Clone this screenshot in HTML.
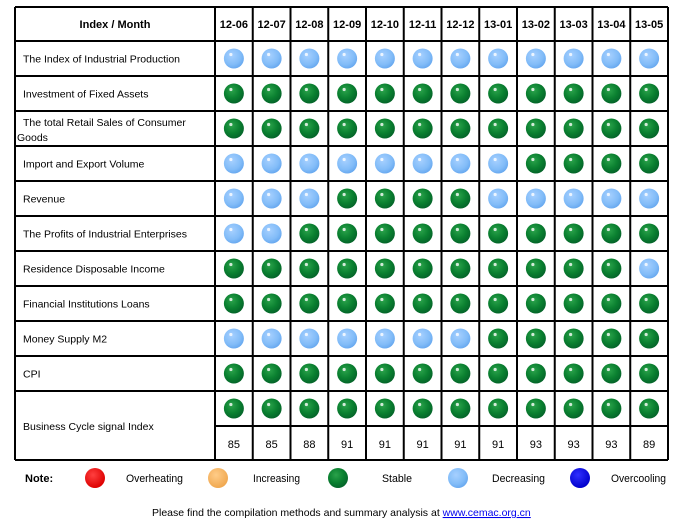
<!DOCTYPE html>
<html><head><meta charset="utf-8"><style>
body{margin:0;background:#fff;}
svg{display:block;font-family:"Liberation Sans",Arial,sans-serif;}
</style></head><body>
<svg id="chart" width="678" height="523" viewBox="0 0 678 523">
<defs>
<radialGradient id="gG" cx="40%" cy="35%" r="65%"><stop offset="0" stop-color="#2aa24a"/><stop offset="0.6" stop-color="#0a8030"/><stop offset="1" stop-color="#05662a"/></radialGradient>
<radialGradient id="gB" cx="40%" cy="35%" r="65%"><stop offset="0" stop-color="#a6d0ff"/><stop offset="0.7" stop-color="#82bcf8"/><stop offset="1" stop-color="#6aaaf0"/></radialGradient>
<radialGradient id="gR" cx="40%" cy="35%" r="65%"><stop offset="0" stop-color="#ff4040"/><stop offset="1" stop-color="#dd0000"/></radialGradient>
<radialGradient id="gO" cx="40%" cy="35%" r="65%"><stop offset="0" stop-color="#ffcc88"/><stop offset="1" stop-color="#f0a850"/></radialGradient>
<radialGradient id="gD" cx="40%" cy="35%" r="65%"><stop offset="0" stop-color="#3030ff"/><stop offset="1" stop-color="#0000cc"/></radialGradient>
</defs>
<g id="grid"></g><g id="marks"></g><g id="labels"></g>
<g id="legend" font-size="11">
<text x="25" y="482" font-weight="bold">Note:</text>
<circle cx="95" cy="478" r="10" fill="url(#gR)"/>
<text x="126" y="482" textLength="57" lengthAdjust="spacingAndGlyphs">Overheating</text>
<circle cx="218" cy="478" r="10" fill="url(#gO)"/>
<text x="253" y="482" textLength="47" lengthAdjust="spacingAndGlyphs">Increasing</text>
<circle cx="338" cy="478" r="10" fill="url(#gG)"/>
<text x="382" y="482" textLength="30" lengthAdjust="spacingAndGlyphs">Stable</text>
<circle cx="458" cy="478" r="10" fill="url(#gB)"/>
<text x="492" y="482" textLength="53" lengthAdjust="spacingAndGlyphs">Decreasing</text>
<circle cx="580" cy="478" r="10" fill="url(#gD)"/>
<text x="611" y="482" textLength="55" lengthAdjust="spacingAndGlyphs">Overcooling</text>
</g>
<text x="152" y="516" font-size="10.5">Please find the compilation methods and summary analysis at <tspan fill="#0000ee" text-decoration="underline">www.cemac.org.cn</tspan></text>
</svg>
<script>
const months=["12-06","12-07","12-08","12-09","12-10","12-11","12-12","13-01","13-02","13-03","13-04","13-05"];
const indicators=["The Index of Industrial Production","Investment of Fixed Assets","The total Retail Sales of Consumer|Goods","Import and Export Volume","Revenue","The Profits of Industrial Enterprises","Residence Disposable Income","Financial Institutions Loans","Money Supply M2","CPI","Business Cycle signal Index"];
const signals=[
"BBBBBBBBBBBB","GGGGGGGGGGGG","GGGGGGGGGGGG","BBBBBBBBGGGG","BBBGGGGBBBBB","BBGGGGGGGGGG",
"GGGGGGGGGGGB","GGGGGGGGGGGG","BBBBBBBGGGGG","GGGGGGGGGGGG","GGGGGGGGGGGG"];
const cycleValues=[85,85,88,91,91,91,91,91,93,93,93,89];
const NS="http://www.w3.org/2000/svg";
const L=15,C0=215,R=668,T=7,H0=41,rowH=35,cw=(R-C0)/months.length;
const colX=i=>C0+i*cw;
const rowY=j=>H0+j*rowH;
const B=rowY(10)+rowH*2-1;
const grid=document.getElementById('grid'),marks=document.getElementById('marks'),labels=document.getElementById('labels');
function mk(tag,attrs,parent){const e=document.createElementNS(NS,tag);for(const k in attrs)e.setAttribute(k,attrs[k]);parent.appendChild(e);return e;}
function line(x1,y1,x2,y2){const l=mk('line',{x1,y1,x2,y2,stroke:'#000','stroke-width':2},grid);

}
line(L,T,R,T);line(L,H0,R,H0);
for(let j=1;j<=10;j++)line(L,rowY(j),R,rowY(j));
line(C0,rowY(10)+rowH,R,rowY(10)+rowH);
line(L,B,R,B);
line(L,T,L,B);
for(let i=0;i<=months.length;i++)line(colX(i),T,colX(i),B);
const ht=mk('text',{x:(L+C0)/2,y:28,'font-size':11,'font-weight':'bold','text-anchor':'middle'},labels);ht.textContent="Index / Month";


months.forEach((m,i)=>{const t=mk('text',{x:colX(i)+cw/2,y:28,'font-size':11,'font-weight':'bold','text-anchor':'middle'},labels);t.textContent=m;

});
indicators.forEach((name,j)=>{
 const parts=name.split('|');const big=j===10;
 const cy=big?rowY(j)+rowH:rowY(j)+rowH/2;
 if(parts.length>1){
  const t1=mk('text',{x:23,y:rowY(j)+15,'font-size':10.5},labels);t1.textContent=parts[0];
  
  
  const t2=mk('text',{x:17,y:rowY(j)+30,'font-size':10.5},labels);t2.textContent=parts[1];
  
  
 }else{
  const t=mk('text',{x:23,y:cy+4,'font-size':10.5},labels);t.textContent=name;
  
  
 }
 const sy=big?rowY(j)+rowH/2:cy;
 months.forEach((m,i)=>{
  const s=signals[j][i];
  const c=mk('circle',{cx:colX(i)+cw/2,cy:sy,r:10,fill:s==='G'?'url(#gG)':'url(#gB)'},marks);
  
  
  const h=mk('circle',{cx:colX(i)+cw/2-3,cy:sy-4,r:1.6,fill:'#fff','fill-opacity':0.8},marks);
  
  
 });
});
cycleValues.forEach((v,i)=>{const t=mk('text',{x:colX(i)+cw/2,y:rowY(10)+rowH+22,'font-size':11,'text-anchor':'middle'},labels);t.textContent=v;

});
</script>
</body></html>
